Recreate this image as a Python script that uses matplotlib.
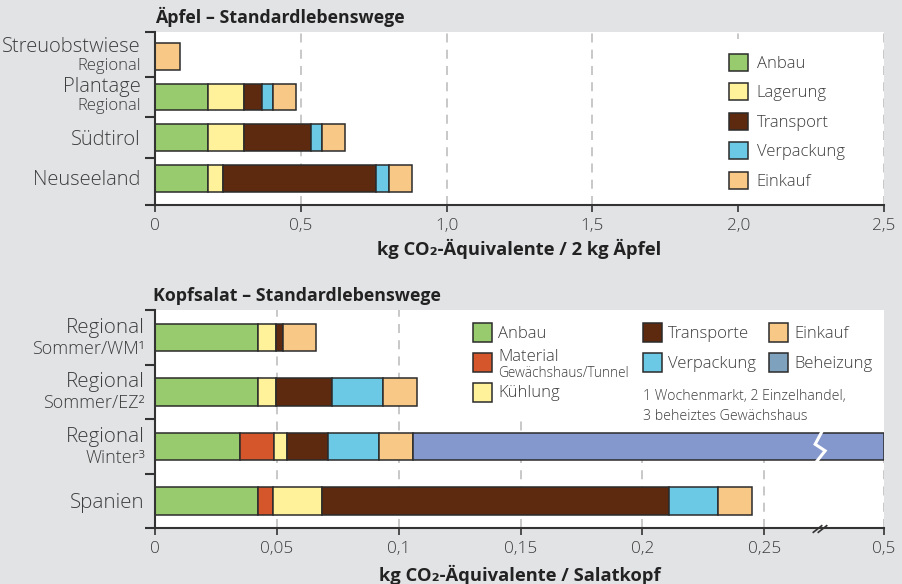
import numpy as np
import matplotlib.pyplot as plt
from matplotlib.patches import Rectangle
from matplotlib.lines import Line2D
from matplotlib import transforms

plt.rcParams['font.family'] = ['Open Sans', 'DejaVu Sans']
plt.rcParams['font.weight'] = 'light'

W, H = 902, 584

# Äpfel - Standardlebenswege (kg CO2-Äq. / 2 kg Äpfel)
apfel_wege = ['Streuobstwiese', 'Plantage', 'Südtirol', 'Neuseeland']
apfel_zusatz = ['Regional', 'Regional', '', '']
apfel_phasen = ['Anbau', 'Lagerung', 'Transport', 'Verpackung', 'Einkauf']
apfel_anbau = [0.0, 0.183, 0.183, 0.183]
apfel_lagerung = [0.0, 0.121, 0.121, 0.050]
apfel_transport = [0.0, 0.063, 0.231, 0.525]
apfel_verpackung = [0.0, 0.039, 0.037, 0.046]
apfel_einkauf = [0.085, 0.079, 0.081, 0.079]
apfel_ticks = [0, 0.5, 1.0, 1.5, 2.0, 2.5]
apfel_ticklabels = ['0', '0,5', '1,0', '1,5', '2,0', '2,5']

# Kopfsalat - Standardlebenswege (kg CO2-Äq. / Salatkopf)
salat_wege = ['Regional', 'Regional', 'Regional', 'Spanien']
salat_zusatz = ['Sommer/WM¹', 'Sommer/EZ²', 'Winter³', '']
salat_phasen = ['Anbau', 'Material', 'Kühlung', 'Transporte', 'Verpackung', 'Einkauf', 'Beheizung']
salat_anbau = [0.0421, 0.0421, 0.0350, 0.0421]
salat_material = [0.0, 0.0, 0.0138, 0.0062]
salat_kuehlung = [0.0076, 0.0076, 0.0055, 0.0202]
salat_transporte = [0.0027, 0.0231, 0.0168, 0.1424]
salat_verpackung = [0.0, 0.0209, 0.0209, 0.0200]
salat_einkauf = [0.0137, 0.0139, 0.0140, 0.0142]
salat_beheizung = [0.0, 0.0, 0.3940, 0.0]
salat_ticks = [0, 0.05, 0.1, 0.15, 0.2, 0.25, 0.5]
salat_ticklabels = ['0', '0,05', '0,1', '0,15', '0,2', '0,25', '0,5']

farben = {'Anbau': '#97cb6e', 'Lagerung': '#fff29a', 'Kühlung': '#fff29a',
          'Transport': '#5e2a0f', 'Transporte': '#5e2a0f', 'Verpackung': '#6bc9e6',
          'Einkauf': '#f8c886', 'Material': '#d5562b', 'Beheizung': '#8598cd'}
kante = '#2b2b2b'
textfarbe = '#3d3d3d'


def fx(px):
    return px / W


def fy(py):
    return 1 - py / H


def stapel(ax, serien, namen, hoehe):
    y = np.arange(len(serien[0]))
    links = np.zeros(len(y))
    for werte, name in zip(serien, namen):
        w = np.asarray(werte, float)
        m = w > 0
        ax.barh(y[m], w[m], left=links[m], height=hoehe, color=farben[name],
                edgecolor=kante, linewidth=1.1, label=name, zorder=2)
        links += w


def achse(ax, ylim, grenzen):
    ax.set_facecolor('white')
    for s in ['top', 'right']:
        ax.spines[s].set_visible(False)
    for s in ['left', 'bottom']:
        ax.spines[s].set_color('#333333')
        ax.spines[s].set_linewidth(1.5)
    ax.set_ylim(ylim)
    ax.set_yticks(grenzen)
    ax.set_yticklabels([])
    ax.tick_params(axis='y', length=7, width=1.5, color='#333333')
    ax.tick_params(axis='x', length=5, width=1.2, color='#333333',
                   labelsize=12.3, labelcolor=textfarbe, pad=4)
    ax.set_axisbelow(True)
    ax.xaxis.grid(True, linestyle=(0, (5, 4)), color='#c4c4c4', linewidth=1.3)


def weiss(ax, x0, y0, x1, y1):
    ax.add_patch(Rectangle((fx(x0), fy(y1)), fx(x1) - fx(x0), fy(y0) - fy(y1),
                           transform=ax.figure.transFigure, facecolor='white',
                           edgecolor='none', zorder=1))


def beschriften(ax, xpos, namen, zusatz, groesse, klein, oben, unten, mitte):
    trans = ax.get_yaxis_transform()
    for i, (name, z) in enumerate(zip(namen, zusatz)):
        if z:
            t1 = transforms.offset_copy(trans, fig=ax.figure, y=oben, units='dots')
            t2 = transforms.offset_copy(trans, fig=ax.figure, y=unten, units='dots')
            ax.text(xpos, i, name, transform=t1, ha='right', va='center',
                    fontsize=groesse, color=textfarbe)
            ax.text(xpos, i, z, transform=t2, ha='right', va='center',
                    fontsize=klein, color=textfarbe)
        else:
            t0 = transforms.offset_copy(trans, fig=ax.figure, y=mitte, units='dots')
            ax.text(xpos, i, name, ha='right', va='center', transform=t0,
                    fontsize=groesse, color=textfarbe)


fig = plt.figure(figsize=(W / 100, H / 100), dpi=100, facecolor='#e2e3e5')

# ---------------- Äpfel ----------------
ax1 = fig.add_axes([fx(155), fy(205), fx(884) - fx(155), fy(32) - fy(205)])
achse(ax1, (3.656, -0.605), [-0.605, 0.5, 1.5, 2.5, 3.656])
stapel(ax1, [apfel_anbau, apfel_lagerung, apfel_transport, apfel_verpackung, apfel_einkauf],
       apfel_phasen, 0.656)
ax1.set_xlim(0, 2.5)
ax1.set_xticks(apfel_ticks)
ax1.set_xticklabels(apfel_ticklabels)
weiss(ax1, 714, 39, 872, 206)
ax1.legend(loc='upper left', bbox_to_anchor=(fx(728.7), fy(54)),
           bbox_transform=fig.transFigure, frameon=False, fontsize=12,
           handlelength=1.16, handleheight=1.16, handletextpad=0.52,
           labelspacing=0.69, borderpad=0, borderaxespad=0, labelcolor=textfarbe)
beschriften(ax1, (140.7 - 155) / 729, apfel_wege, apfel_zusatz, 14.5, 12, 10, -9, -2)

fig.text(fx(155), fy(16.7), 'Äpfel – Standardlebenswege', fontsize=12.8,
         weight='bold', va='center', color='#222222')
fig.text(fx(519.5), fy(249), 'kg CO₂-Äquivalente / 2 kg Äpfel', fontsize=13.2,
         weight='bold', ha='center', va='center', color='#222222')

# ---------------- Kopfsalat ----------------
knick = 0.2729
faktor = (0.2991 - knick) / (0.5 - knick)


def vor(x):
    x = np.asarray(x, float)
    return np.where(x <= knick, x, knick + (x - knick) * faktor)


def zurueck(x):
    x = np.asarray(x, float)
    return np.where(x <= knick, x, knick + (x - knick) / faktor)


ax2 = fig.add_axes([fx(155), fy(528.3), fx(884) - fx(155), fy(310) - fy(528.3)])
ax2.set_xscale('function', functions=(vor, zurueck))
achse(ax2, (3.5, -0.5), [-0.5, 0.5, 1.5, 2.5, 3.5])
stapel(ax2, [salat_anbau, salat_material, salat_kuehlung, salat_transporte,
             salat_verpackung, salat_einkauf, salat_beheizung], salat_phasen, 0.5)
ax2.set_xlim(0, 0.5)
ax2.set_xticks(salat_ticks)
ax2.set_xticklabels(salat_ticklabels)
ax2.minorticks_off()
weiss(ax2, 462, 309, 886, 421)
weiss(ax2, 600, 309, 886, 433)
beschriften(ax2, (145 - 155) / 729, salat_wege, salat_zusatz, 14.8, 13, 9.5, -11.5, -2)

# Bruch im Balken "Regional Winter"
pro_px = 0.2991 / 729
zx = [1.7, -5, 5, -3.3]
zy = [-0.27, -0.04, 0.08, 0.27]
ax2.plot(zurueck(knick + np.array(zx) * pro_px), 2 + np.array(zy), color='white',
         linewidth=2.2, zorder=3, solid_joinstyle='miter', clip_on=False)

# Bruch auf der Achse
for dx in (0, 5):
    fig.add_artist(Line2D([fx(813.3 + dx), fx(821.7 + dx)], [fy(532.3), fy(525.7)],
                          transform=fig.transFigure, color='#333333', linewidth=1.2))

# Legende Kopfsalat
def kaestchen(x, y, farbe):
    fig.add_artist(Rectangle((fx(x), fy(y + 19)), 19.3 / W, 19 / H, transform=fig.transFigure,
                             facecolor=farbe, edgecolor=kante, linewidth=1.1))


eintraege = [(472.7, 323.3, 'Anbau', farben['Anbau']),
             (472.7, 382.7, 'Kühlung', farben['Kühlung']),
             (642.7, 323.3, 'Transporte', farben['Transporte']),
             (642.7, 353.3, 'Verpackung', farben['Verpackung']),
             (769.0, 323.3, 'Einkauf', farben['Einkauf']),
             (769.0, 353.3, 'Beheizung', '#7ea1be')]
for x, y, name, farbe in eintraege:
    kaestchen(x, y, farbe)
    fig.text(fx(x + 25.6), fy(y + 10.5), name, fontsize=12, va='center', color=textfarbe)
kaestchen(472.7, 353.3, farben['Material'])
fig.text(fx(498.3), fy(357), 'Material', fontsize=12, va='center', color=textfarbe)
fig.text(fx(498.3), fy(373.5), 'Gewächshaus/Tunnel', fontsize=9.8, va='center', color=textfarbe)
fig.text(fx(642.7), fy(397), '1 Wochenmarkt, 2 Einzelhandel,', fontsize=10.2,
         va='center', color=textfarbe)
fig.text(fx(642.7), fy(416), '3 beheiztes Gewächshaus', fontsize=10.2,
         va='center', color=textfarbe)

fig.text(fx(153), fy(295.7), 'Kopfsalat – Standardlebenswege', fontsize=12.8,
         weight='bold', va='center', color='#222222')
fig.text(fx(520), fy(575), 'kg CO₂-Äquivalente / Salatkopf', fontsize=13.2,
         weight='bold', ha='center', va='center', color='#222222')

fig.savefig('out.png', dpi=100, facecolor=fig.get_facecolor())
